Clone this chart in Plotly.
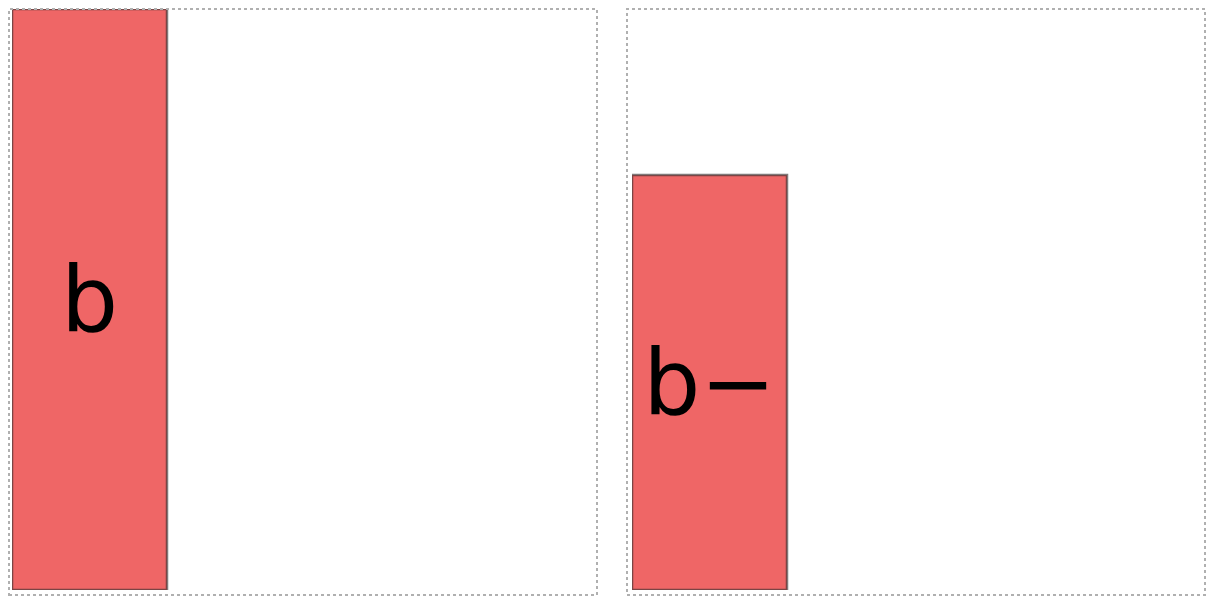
import plotly.graph_objects as go

# two single-bar panels, each framed by a dotted box
categories = [0, 1, 2]
left_values = [7, None, None]
right_values = [5, None, None]
left_text = ["b", "", ""]
right_text = ["b\u2212", "", ""]
y_max = 7

BAR_COLOR = "rgb(239,102,102)"
EDGE_COLOR = "rgba(60,50,50,0.65)"
TEXT_FONT = dict(family="DejaVu Sans", size=90, color="black")

# the page body adds an 8px margin, so the figure is a bit smaller than the window
W, H = 1199, 590
OFF = 8
BAR_PX = 155  # on-screen bar width


def px_x(v):
    return (v - OFF) / W


def px_y(v):
    return 1 - (v - OFF) / H


def x_range(left, right):
    # range that makes a 0.8-wide bar come out BAR_PX pixels wide
    span = 0.8 * (right - left) / BAR_PX
    return [-0.4, -0.4 + span]


fig = go.Figure()

fig.add_trace(go.Bar(
    x=categories, y=left_values, text=left_text,
    textposition="inside", insidetextanchor="middle", textfont=TEXT_FONT,
    marker=dict(color=BAR_COLOR, line=dict(color=EDGE_COLOR, width=2.5)),
    xaxis="x", yaxis="y", showlegend=False,
))
fig.add_trace(go.Bar(
    x=categories, y=right_values, text=right_text,
    textposition="inside", insidetextanchor="middle", textfont=TEXT_FONT,
    marker=dict(color=BAR_COLOR, line=dict(color=EDGE_COLOR, width=2.5)),
    xaxis="x2", yaxis="y2", showlegend=False,
))

frame = dict(type="rect", xref="paper", yref="paper",
             line=dict(color="#b0b0b0", width=2, dash="dot"),
             fillcolor="rgba(0,0,0,0)", layer="above")

fig.update_layout(
    width=W, height=H,
    margin=dict(l=0, r=0, t=0, b=0),
    plot_bgcolor="white", paper_bgcolor="white",
    bargap=0.2,
    xaxis=dict(domain=[px_x(12), px_x(592)], range=x_range(12, 592), visible=False),
    yaxis=dict(domain=[px_y(590), px_y(9)], range=[0, y_max], visible=False),
    xaxis2=dict(domain=[px_x(632), px_x(1200)], range=x_range(632, 1200), visible=False, anchor="y2"),
    yaxis2=dict(domain=[px_y(590), px_y(9)], range=[0, y_max], visible=False, anchor="x2"),
    shapes=[
        dict(frame, x0=px_x(9), x1=px_x(597), y0=px_y(595), y1=px_y(9)),
        dict(frame, x0=px_x(627), x1=px_x(1205), y0=px_y(595), y1=px_y(9)),
    ],
)

fig.write_html("out.html")
